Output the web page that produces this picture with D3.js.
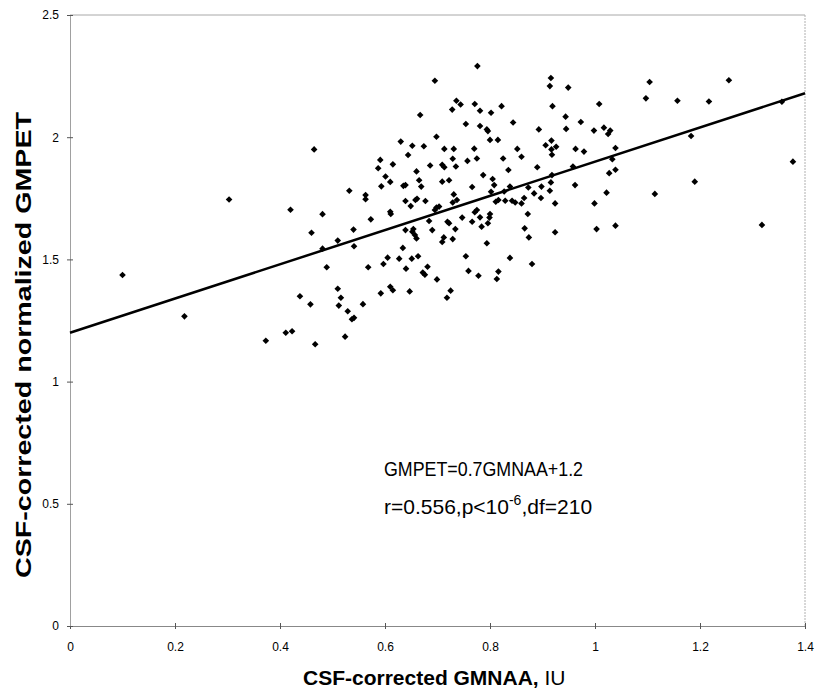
<!DOCTYPE html>
<html>
<head>
<meta charset="utf-8">
<script src="https://cdn.jsdelivr.net/npm/d3@7"></script>
<style>
  body { margin: 0; background: #fff; }
  svg { font-family: Arial, "Liberation Sans", sans-serif; }
</style>
</head>
<body>
<div id="chart"></div>
<script>
// CSF-corrected GMNAA (x) and normalized GMPET (y)
var gmnaa = [
  0.100, 0.218, 0.303, 0.420, 0.373, 0.411, 0.423, 0.438, 0.458, 0.467,
  0.776, 0.695, 0.736, 0.744, 0.771, 0.781, 0.728, 0.667, 0.754, 0.781,
  0.465, 0.630, 0.698, 0.652, 0.674, 0.713, 0.731, 0.770, 0.644, 0.729,
  0.775, 0.757, 0.591, 0.615, 0.587, 0.686, 0.709, 0.713, 0.735,
  0.601, 0.610, 0.660, 0.665, 0.669, 0.593, 0.635, 0.639, 0.709, 0.722,
  0.766, 0.532, 0.563, 0.563, 0.639, 0.658, 0.661, 0.677, 0.649, 0.731,
  0.729, 0.737, 0.698, 0.703, 0.695, 0.775, 0.771, 0.481, 0.610, 0.611,
  0.573, 0.684, 0.719, 0.722, 0.747, 0.766, 0.781, 0.460, 0.540, 0.639,
  0.654, 0.652, 0.657, 0.660, 0.690, 0.734, 0.712, 0.709, 0.729, 0.510,
  0.481, 0.541, 0.634, 0.605, 0.627, 0.651, 0.663, 0.754, 0.489, 0.568,
  0.597, 0.640, 0.681, 0.759,
  0.510, 0.516, 0.512, 0.529, 0.537, 0.541, 0.524, 0.558, 0.592, 0.610,
  0.615, 0.647, 0.672, 0.676, 0.699, 0.718, 0.725, 0.778,
  0.916, 0.914, 0.949, 1.104, 1.097, 1.008, 0.822, 0.919, 0.802, 0.944,
  0.844, 0.973, 0.794, 0.796, 0.893, 0.945, 0.998, 1.017, 1.029, 1.025,
  0.800, 0.815, 0.917, 0.906, 0.926, 0.917, 0.918, 0.852, 0.860, 0.825,
  0.963, 0.979, 1.039, 1.033, 1.039, 1.027, 0.835, 0.890, 0.787, 0.805,
  0.808, 0.958, 0.918, 0.916, 0.898, 0.873, 0.838, 0.962, 0.884, 0.914,
  0.865, 0.897, 0.827, 0.802, 1.022, 1.114, 0.811, 0.816, 0.829, 0.842,
  0.848, 0.860, 0.924, 0.999,
  0.800, 0.799, 0.796, 0.784, 0.872, 0.866, 0.874, 0.924, 1.003, 1.039,
  0.794, 0.838, 0.880, 0.816, 0.813,
  1.157, 1.217, 1.255, 1.356, 1.183, 1.190, 1.377, 1.318
];
var gmpet = [
  1.436, 1.267, 1.745, 1.703, 1.167, 1.200, 1.206, 1.349, 1.316, 1.153,
  2.291, 2.231, 2.149, 2.134, 2.136, 2.108, 2.113, 2.091, 2.054, 2.046,
  1.950, 1.982, 2.002, 1.965, 1.963, 1.952, 1.952, 1.953, 1.927, 1.912,
  1.913, 1.903, 1.907, 1.889, 1.873, 1.884, 1.887, 1.877, 1.880,
  1.839, 1.817, 1.860, 1.824, 1.798, 1.799, 1.801, 1.804, 1.818, 1.824,
  1.796, 1.781, 1.763, 1.746, 1.739, 1.743, 1.748, 1.739, 1.718, 1.766,
  1.733, 1.743, 1.712, 1.716, 1.702, 1.702, 1.693, 1.685, 1.695, 1.686,
  1.664, 1.657, 1.654, 1.648, 1.671, 1.654, 1.672, 1.609, 1.622, 1.620,
  1.624, 1.613, 1.600, 1.586, 1.620, 1.624, 1.590, 1.571, 1.583, 1.577,
  1.544, 1.554, 1.547, 1.507, 1.503, 1.503, 1.513, 1.513, 1.468, 1.468,
  1.481, 1.462, 1.470, 1.453,
  1.380, 1.343, 1.311, 1.288, 1.255, 1.261, 1.184, 1.317, 1.361, 1.388,
  1.374, 1.369, 1.446, 1.437, 1.418, 1.343, 1.372, 1.433,
  2.242, 2.209, 2.203, 2.226, 2.159, 2.136, 2.127, 2.127, 2.100, 2.084,
  2.060, 2.062, 2.032, 2.025, 2.032, 2.034, 2.027, 2.039, 2.027, 2.013,
  1.989, 1.989, 1.986, 1.967, 1.961, 1.950, 1.928, 1.952, 1.920, 1.913,
  1.952, 1.941, 1.956, 1.910, 1.867, 1.853, 1.866, 1.877, 1.845, 1.829,
  1.804, 1.880, 1.845, 1.815, 1.798, 1.794, 1.798, 1.804, 1.770, 1.781,
  1.751, 1.751, 1.778, 1.777, 1.773, 1.768, 1.736, 1.743, 1.740, 1.740,
  1.733, 1.729, 1.729, 1.729,
  1.686, 1.671, 1.648, 1.634, 1.686, 1.627, 1.590, 1.611, 1.624, 1.638,
  1.566, 1.506, 1.481, 1.450, 1.420,
  2.149, 2.146, 2.233, 2.145, 2.005, 1.818, 1.900, 1.641
];

var xTicks = [0, 0.2, 0.4, 0.6, 0.8, 1, 1.2, 1.4];
var yTicks = [0, 0.5, 1, 1.5, 2, 2.5];
var xTickLabels = ["0", "0.2", "0.4", "0.6", "0.8", "1", "1.2", "1.4"];
var yTickLabels = ["0", "0.5", "1", "1.5", "2", "2.5"];

// regression: GMPET = 0.7 GMNAA + 1.2
var slope = 0.7, intercept = 1.2;

var W = 827, H = 690;
var svg = d3.select("#chart").append("svg")
  .attr("width", W).attr("height", H);

var x = d3.scaleLinear().domain([0, 1.4]).range([70, 805]);
var y = d3.scaleLinear().domain([0, 2.5]).range([626, 15]);

// frame: top and right
svg.append("line")
  .attr("x1", x(0)).attr("x2", x(1.4)).attr("y1", y(2.5)).attr("y2", y(2.5))
  .attr("stroke", "#a8a8a8").attr("stroke-width", 1);
svg.append("line")
  .attr("x1", x(1.4)).attr("x2", x(1.4)).attr("y1", y(2.5)).attr("y2", y(0))
  .attr("stroke", "#b0b0b0").attr("stroke-width", 1)
  .attr("stroke-dasharray", "2,1");

// axes
var xAxis = svg.append("g")
  .attr("transform", "translate(0," + y(0) + ")")
  .call(d3.axisBottom(x).tickValues(xTicks)
    .tickFormat(function(d, i) { return xTickLabels[i]; })
    .tickSizeInner(3).tickSizeOuter(0).tickPadding(13));
xAxis.select(".domain").attr("stroke", "#888");
xAxis.selectAll(".tick line").attr("y1", -3).attr("stroke", "#555");
xAxis.selectAll(".tick text").attr("font-size", 12).attr("fill", "#000")
  .attr("font-family", "Arial, 'Liberation Sans', sans-serif");

var yAxis = svg.append("g")
  .attr("transform", "translate(" + x(0) + ",0)")
  .call(d3.axisLeft(y).tickValues(yTicks)
    .tickFormat(function(d, i) { return yTickLabels[i]; })
    .tickSizeInner(3).tickSizeOuter(0).tickPadding(8));
yAxis.select(".domain").attr("stroke", "#a0a0a0");
yAxis.selectAll(".tick line").attr("x1", 3).attr("stroke", "#555");
yAxis.selectAll(".tick text").attr("font-size", 12).attr("fill", "#000")
  .attr("font-family", "Arial, 'Liberation Sans', sans-serif");

// points (diamonds)
var diamond = d3.symbol().type(d3.symbolSquare).size(22);
svg.append("g")
  .selectAll("path")
  .data(gmnaa.map(function(d, i) { return [d, gmpet[i]]; }))
  .enter()
  .append("path")
  .attr("d", diamond)
  .attr("transform", function(d) {
    return "translate(" + x(d[0]) + "," + y(d[1]) + ") rotate(45)";
  })
  .attr("fill", "#000");

// regression line
svg.append("line")
  .attr("x1", x(0)).attr("y1", y(intercept))
  .attr("x2", x(1.4)).attr("y2", y(slope * 1.4 + intercept))
  .attr("stroke", "#000").attr("stroke-width", 2.5);

// annotation
svg.append("text")
  .attr("x", 384).attr("y", 476)
  .attr("font-size", 21)
  .attr("textLength", 199).attr("lengthAdjust", "spacingAndGlyphs")
  .text("GMPET=0.7GMNAA+1.2");
var t2 = svg.append("text")
  .attr("x", 384).attr("y", 514)
  .attr("font-size", 21);
t2.append("tspan").text("r=0.556,p<10");
t2.append("tspan").attr("font-size", 14).attr("dy", -9).text("-6");
t2.append("tspan").attr("dy", 9).text(",df=210");

// axis titles
var xt = svg.append("text")
  .attr("x", 303).attr("y", 685)
  .attr("font-size", 21);
xt.append("tspan").attr("font-weight", "bold").text("CSF-corrected GMNAA,");
xt.append("tspan").text(" IU");

svg.append("text")
  .attr("transform", "translate(31,345) rotate(-90)")
  .attr("text-anchor", "middle")
  .attr("font-size", 22).attr("font-weight", "bold")
  .attr("textLength", 466).attr("lengthAdjust", "spacingAndGlyphs")
  .text("CSF-corrected normalized GMPET");
</script>
</body>
</html>
